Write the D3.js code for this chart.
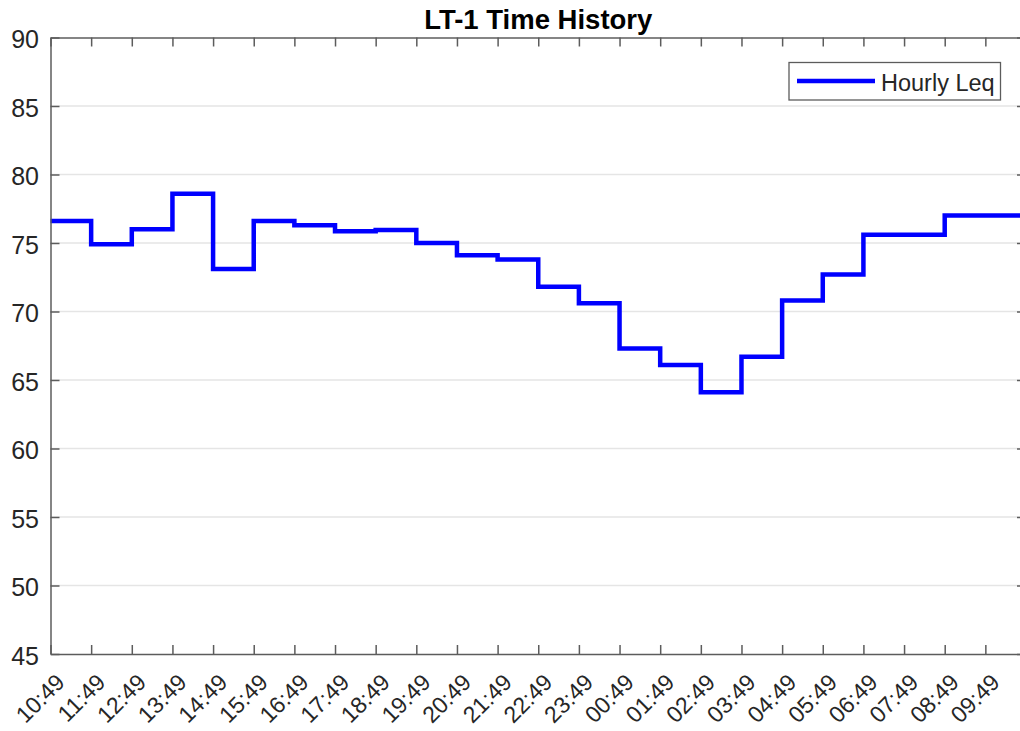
<!DOCTYPE html>
<html>
<head>
<meta charset="utf-8">
<script src="https://cdn.jsdelivr.net/npm/d3@7"></script>
<style>
  html, body { margin: 0; padding: 0; background: #fff; }
  svg { display: block; }
  text { font-family: "Liberation Sans", Arial, Helvetica, sans-serif; }
</style>
</head>
<body>
<svg id="chart" width="1020" height="731"></svg>
<script>
// Hourly Leq (dBA), one value per hour starting at 10:49
const hourLabels = ["10:49","11:49","12:49","13:49","14:49","15:49","16:49","17:49",
  "18:49","19:49","20:49","21:49","22:49","23:49","00:49","01:49","02:49","03:49",
  "04:49","05:49","06:49","07:49","08:49","09:49"];
const hourlyLeq = [76.6, 74.9, 76.0, 78.6, 73.1, 76.6, 76.3, 75.85, 75.95, 75.0,
  74.1, 73.8, 71.8, 70.6, 67.3, 66.1, 64.1, 66.7, 70.8, 72.7, 75.6, 75.6, 77.0, 77.0];
const yTicks = [45, 50, 55, 60, 65, 70, 75, 80, 85, 90];
const titleText = "LT-1 Time History";
const legendText = "Hourly Leq";

const svg = d3.select("#chart");
const m = { left: 50.5, right: 1026, top: 37.5, bottom: 654 };

const x = d3.scaleLinear().domain([0, 24]).range([m.left, m.right]);
const y = d3.scaleLinear().domain([45, 90]).range([m.bottom, m.top]);

const axisColor = "#5c5c5c";
const textColor = "#262626";

// horizontal grid
svg.append("g").selectAll("line").data(yTicks.filter(v => v > 45 && v < 90)).join("line")
  .attr("x1", m.left).attr("x2", m.right)
  .attr("y1", d => y(d)).attr("y2", d => y(d))
  .attr("stroke", "#e5e5e5").attr("stroke-width", 1.5);

// step series: each hour holds its value until the next hour
const pts = hourlyLeq.map((v, i) => [i, v]);
pts.push([hourlyLeq.length, hourlyLeq[hourlyLeq.length - 1]]);
const stepLine = d3.line().x(d => x(d[0])).y(d => y(d[1])).curve(d3.curveStepAfter);
svg.append("path").datum(pts)
  .attr("d", stepLine)
  .attr("fill", "none").attr("stroke", "#0000ff")
  .attr("stroke-width", 4.5).attr("stroke-linejoin", "miter").attr("stroke-linecap", "butt");

// axes (ticks point inward)
const tickLen = 9;
const xTickVals = d3.range(hourLabels.length);
const axBottom = svg.append("g").attr("transform", `translate(0,${m.bottom})`)
  .call(d3.axisBottom(x).tickValues(xTickVals).tickSizeInner(-tickLen).tickSizeOuter(0).tickFormat(""));
const axTop = svg.append("g").attr("transform", `translate(0,${m.top})`)
  .call(d3.axisTop(x).tickValues(xTickVals).tickSizeInner(-tickLen).tickSizeOuter(0).tickFormat(""));
const axLeft = svg.append("g").attr("transform", `translate(${m.left},0)`)
  .call(d3.axisLeft(y).tickValues(yTicks).tickSizeInner(-tickLen).tickSizeOuter(0).tickFormat(""));
const axRight = svg.append("g").attr("transform", `translate(${m.right},0)`)
  .call(d3.axisRight(y).tickValues(yTicks).tickSizeInner(-tickLen).tickSizeOuter(0).tickFormat(""));
[axBottom, axTop, axLeft, axRight].forEach(g => {
  g.selectAll("path, line").attr("stroke", axisColor).attr("stroke-width", 1.5);
});

// y tick labels
svg.append("g").selectAll("text").data(yTicks).join("text")
  .attr("x", m.left - 11.5).attr("y", d => y(d) + 1.5)
  .attr("text-anchor", "end").attr("dominant-baseline", "central")
  .attr("font-size", 25).attr("fill", textColor)
  .text(d => d);

// x tick labels, rotated 45 degrees
svg.append("g").selectAll("text").data(xTickVals).join("text")
  .attr("transform", d => `translate(${x(d) + 10},${m.bottom + 24}) rotate(-45)`)
  .attr("text-anchor", "end").attr("dominant-baseline", "central")
  .attr("font-size", 23).attr("fill", textColor)
  .text(d => hourLabels[d]);

// title
svg.append("text")
  .attr("x", (m.left + m.right) / 2).attr("y", 28.5)
  .attr("text-anchor", "middle").attr("font-weight", "bold")
  .attr("font-size", 27.5).attr("fill", "#000")
  .text(titleText);

// legend
const lg = svg.append("g");
lg.append("rect").attr("x", 789).attr("y", 62.5).attr("width", 211.5).attr("height", 37.5)
  .attr("fill", "#fff").attr("stroke", axisColor).attr("stroke-width", 1.3);
lg.append("line").attr("x1", 797).attr("x2", 875).attr("y1", 81).attr("y2", 81)
  .attr("stroke", "#0000ff").attr("stroke-width", 4.5);
lg.append("text").attr("x", 881).attr("y", 83).attr("dominant-baseline", "central")
  .attr("font-size", 23.5).attr("fill", textColor).text(legendText);
</script>
</body>
</html>
